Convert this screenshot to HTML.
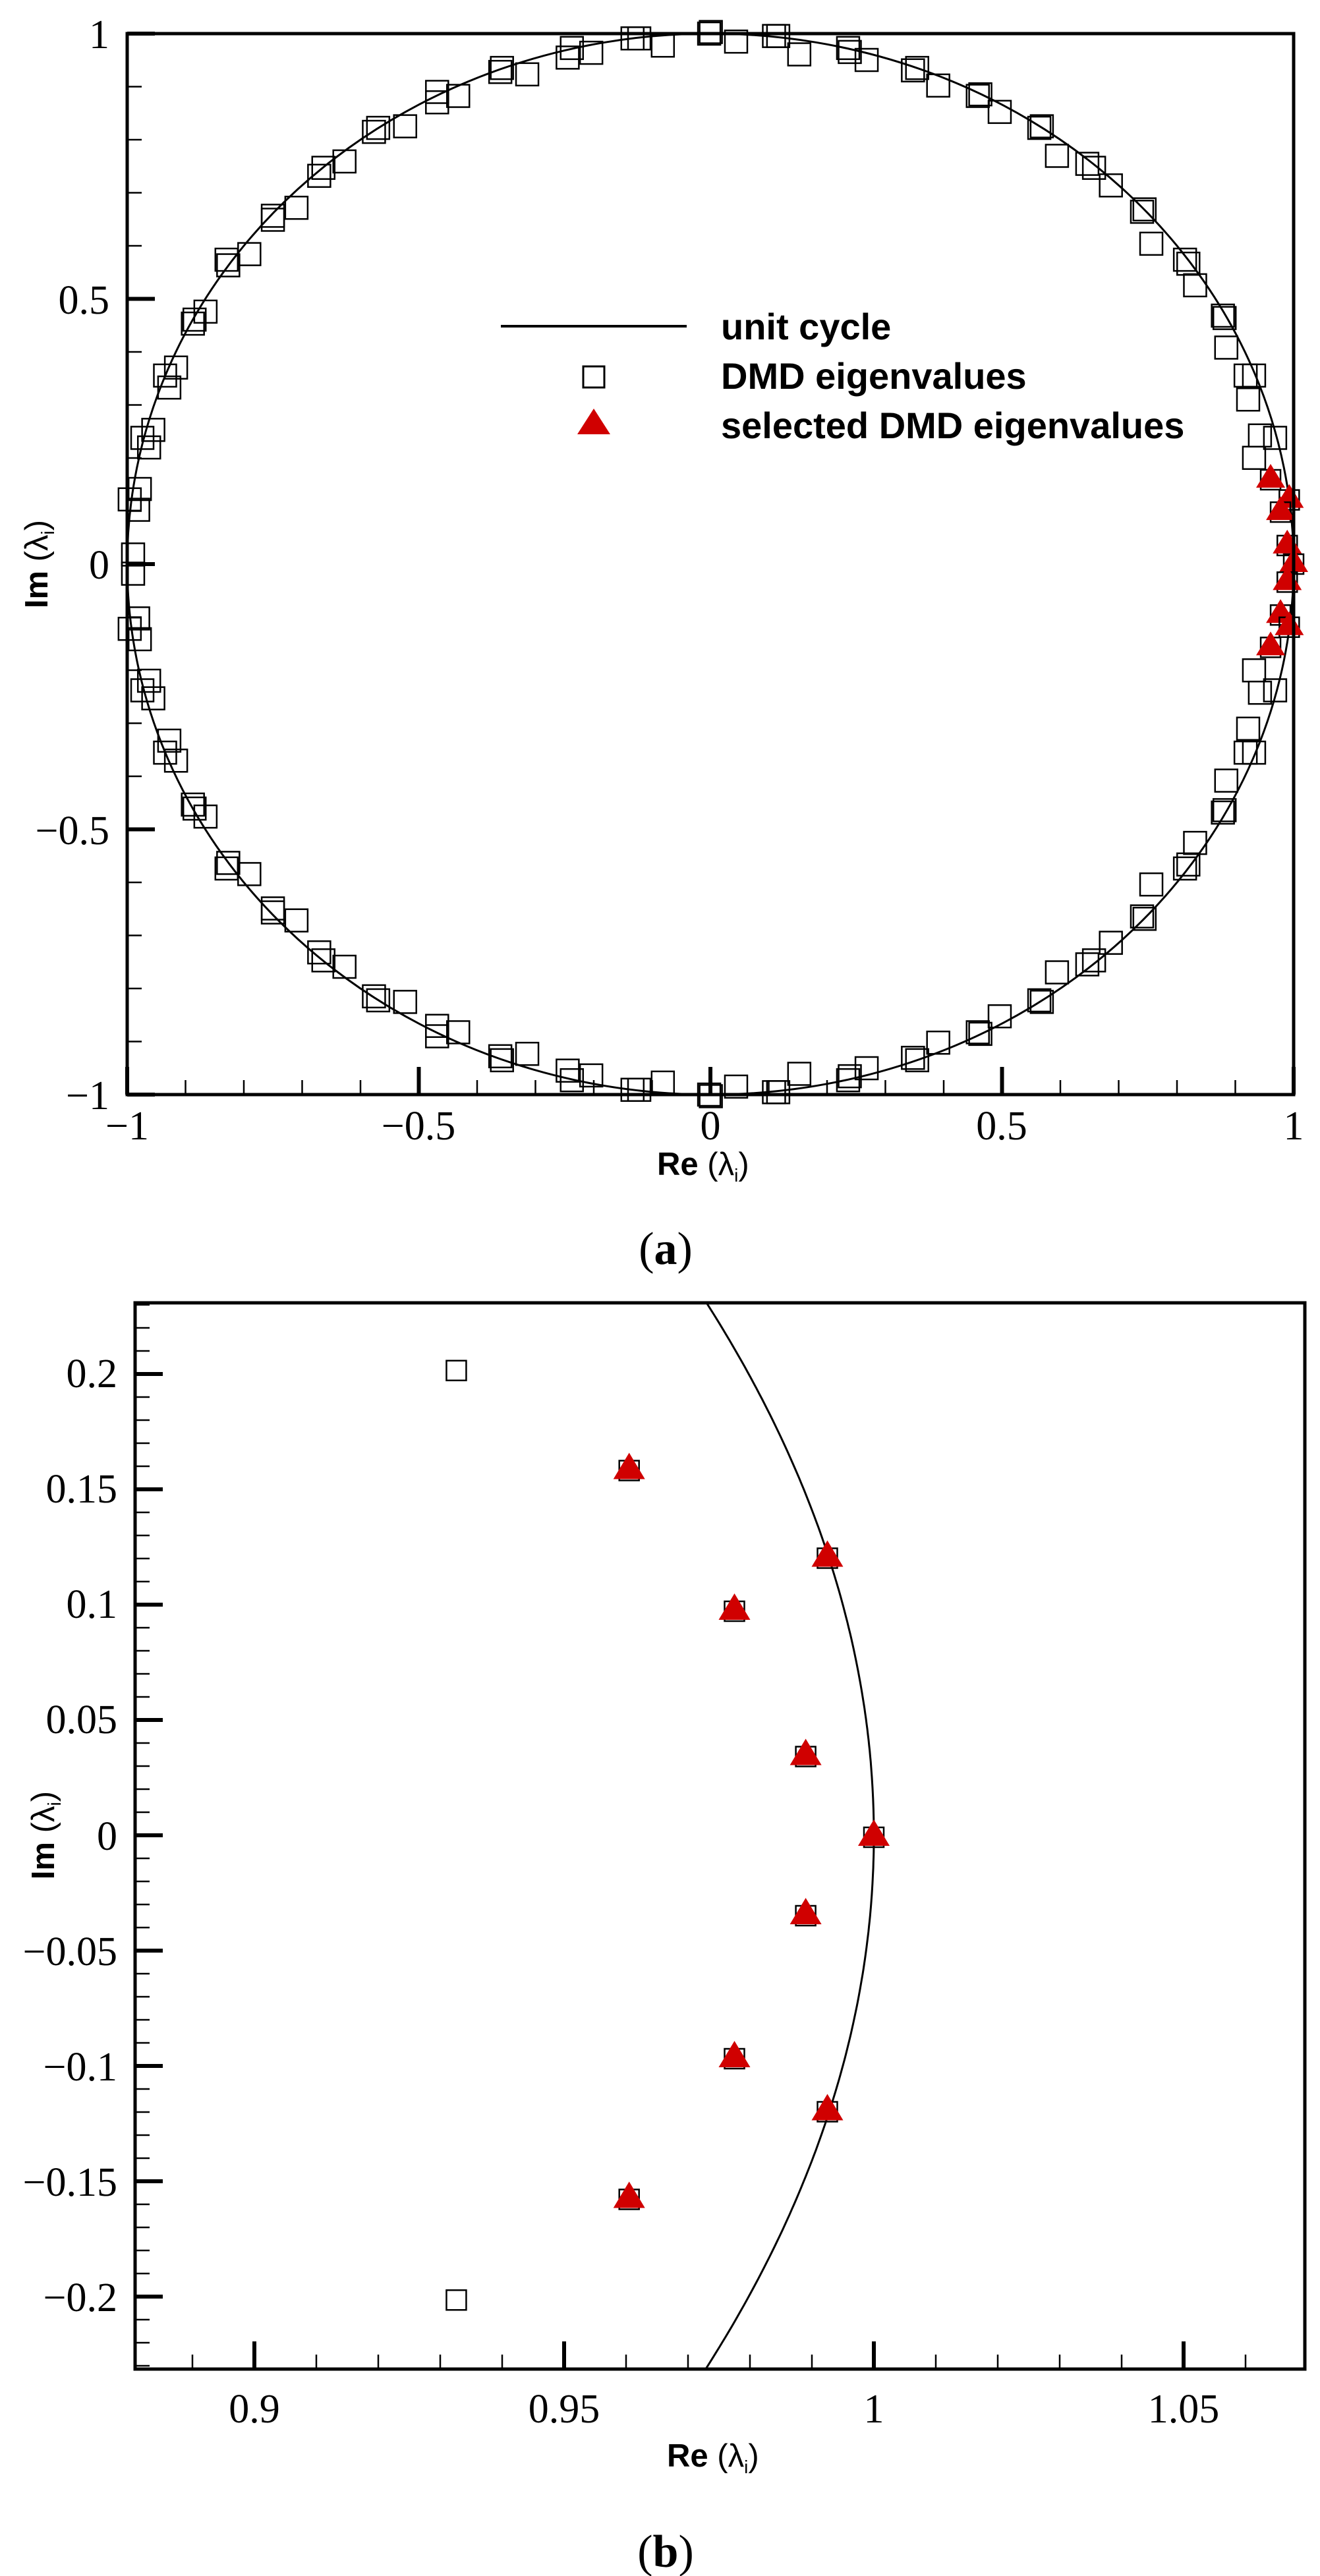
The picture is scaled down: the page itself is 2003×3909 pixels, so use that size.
<!DOCTYPE html>
<html><head><meta charset="utf-8"><style>
html,body{margin:0;padding:0;background:#fff;}
svg{display:block;}
.t{font-family:"Liberation Serif",serif;font-size:62px;fill:#000;}
.l{font-family:"Liberation Sans",sans-serif;font-weight:bold;fill:#000;}
</style></head><body>
<svg id="s" width="2003" height="3909" viewBox="0 0 2003 3909" xmlns="http://www.w3.org/2000/svg">
<rect width="2003" height="3909" fill="#fff"/>
<g id="g1"></g>
<g id="g2"></g>
<!-- top plot text -->
<g class="t" text-anchor="end">
<text x="166" y="73">1</text>
<text x="166" y="476">0.5</text>
<text x="166" y="878">0</text>
<text x="166" y="1281">−0.5</text>
<text x="166" y="1683">−1</text>
</g>
<g class="t" text-anchor="middle">
<text x="193" y="1729">−1</text>
<text x="635" y="1729">−0.5</text>
<text x="1078" y="1729">0</text>
<text x="1520" y="1729">0.5</text>
<text x="1963" y="1729">1</text>
</g>
<text class="l" x="997" y="1783" font-size="49">Re <tspan font-weight="normal">(λ</tspan><tspan font-weight="normal" font-size="28" dy="10">i</tspan><tspan font-weight="normal" dy="-10">)</tspan></text>
<text class="l" transform="translate(72,856) rotate(-90)" text-anchor="middle" font-size="49">Im <tspan font-weight="normal">(λ</tspan><tspan font-weight="normal" font-size="28" dy="10">i</tspan><tspan font-weight="normal" dy="-10">)</tspan></text>
<line x1="760" y1="495" x2="1042" y2="495" stroke="#000" stroke-width="4"/>
<rect x="885" y="556" width="32" height="32" fill="none" stroke="#000" stroke-width="3"/>
<polygon points="901,620 876,659 926,659" fill="#d00000"/>
<g class="l" font-size="56">
<text x="1094" y="515">unit cycle</text>
<text x="1094" y="590">DMD eigenvalues</text>
<text x="1094" y="665">selected DMD eigenvalues</text>
</g>
<text x="1010" y="1918" font-family="Liberation Serif,serif" font-size="70" text-anchor="middle">(<tspan font-weight="bold">a</tspan>)</text>
<!-- bottom plot text -->
<g class="t" text-anchor="end">
<text x="178" y="2105">0.2</text>
<text x="178" y="2280">0.15</text>
<text x="178" y="2455">0.1</text>
<text x="178" y="2630">0.05</text>
<text x="178" y="2807">0</text>
<text x="178" y="2982">−0.05</text>
<text x="178" y="3157">−0.1</text>
<text x="178" y="3332">−0.15</text>
<text x="178" y="3507">−0.2</text>
</g>
<g class="t" text-anchor="middle">
<text x="386" y="3676">0.9</text>
<text x="856" y="3676">0.95</text>
<text x="1326" y="3676">1</text>
<text x="1796" y="3676">1.05</text>
</g>
<text class="l" x="1012" y="3743" font-size="49">Re <tspan font-weight="normal">(λ</tspan><tspan font-weight="normal" font-size="28" dy="10">i</tspan><tspan font-weight="normal" dy="-10">)</tspan></text>
<text class="l" transform="translate(82,2785) rotate(-90)" text-anchor="middle" font-size="49">Im <tspan font-weight="normal">(λ</tspan><tspan font-weight="normal" font-size="28" dy="10">i</tspan><tspan font-weight="normal" dy="-10">)</tspan></text>
<text x="1010" y="3895" font-family="Liberation Serif,serif" font-size="70" text-anchor="middle">(<tspan font-weight="bold">b</tspan>)</text>
</svg>
<script>
var NS="http://www.w3.org/2000/svg";
function el(p,n,a){var e=document.createElementNS(NS,n);for(var k in a)e.setAttribute(k,a[k]);p.appendChild(e);return e;}
// ---- top plot
var g1=document.getElementById("g1");
var L=193,R=1963,T=51,B=1661;
function X1(x){return 1078+885*x;} function Y1(y){return 856-805*y;}
el(g1,"ellipse",{cx:1078,cy:856,rx:885,ry:805,fill:"none",stroke:"#000","stroke-width":3});
for(var i=-10;i<=10;i++){var v=i/10;var maj=(i%5==0);var len=maj?42:22;var w=maj?6:2.5;
 var x=X1(v);el(g1,"line",{x1:x,y1:B,x2:x,y2:B-len,stroke:"#000","stroke-width":w});
 var y=Y1(v);el(g1,"line",{x1:L,y1:y,x2:L+len,y2:y,stroke:"#000","stroke-width":w});}
var pts=[[155,625],[167,612],[165,638],[159,694],[170,548],[183,538],[178,560],[197,470],[210,460],[202,485],[230,405],[245,390],[232,400],[272,332],[297,318],[270,325],[325,275],[353,260],[325,270],[380,220],[410,202],[385,210],[445,165],[482,158],[450,160],[520,128],[545,120],[520,115],[595,90],[627,93],[597,85],[675,72],[703,66],[680,60],[752,48],[788,57],[760,48],[843,42],[875,52],[845,40],[920,45],[950,68],[925,45],[1008,60],[1030,75],[1010,65],[1085,88],[1115,107],[1090,85],[1162,120],[1188,140],[1165,118],[1235,160],[1256,195],[1238,158],[1292,205],[1320,232],[1300,210],[1357,265],[1368,305],[1360,262],[1408,325],[1420,357],[1412,330],[1453,395],[1457,435],[1455,398],[1480,470],[1490,470],[1483,500],[1497,545],[1515,548],[1490,573]];
var S=34;
pts.forEach(function(p){var x=(p[0]-844.5)/692.5,y=(706-p[1])/664;
 [y,-y].forEach(function(yy){el(g1,"rect",{x:X1(x)-S/2,y:Y1(yy)-S/2,width:S,height:S,fill:"none",stroke:"#000","stroke-width":2.5});});});
var sel=[[0.9605,0.159],[0.9925,0.121],[0.9775,0.098],[0.989,0.035],[1.0,0],[0.989,-0.034],[0.9775,-0.096],[0.9925,-0.119],[0.9605,-0.157]];
sel.forEach(function(p){var cx=X1(p[0]),cy=Y1(p[1]);
 el(g1,"rect",{x:cx-15,y:cy-15,width:30,height:30,fill:"none",stroke:"#000","stroke-width":2.5});
 el(g1,"polygon",{points:(cx)+","+(cy-24)+" "+(cx-22)+","+(cy+12)+" "+(cx+22)+","+(cy+12),fill:"#d00000"});});
el(g1,"rect",{x:L,y:T,width:R-L,height:B-T,fill:"none",stroke:"#000","stroke-width":5});
// ---- bottom plot
var g2=document.getElementById("g2");
var L2=205,R2=1980,T2=1977,B2=3595;
function X2(x){return 386+(x-0.9)*9400;} function Y2(y){return 2785-3500*y;}
var d="";for(var k=0;k<=200;k++){var y=0.2309-k*(0.4623/200);var x=Math.sqrt(1-y*y);d+=(k?"L":"M")+X2(x).toFixed(1)+","+Y2(y).toFixed(1);}
el(g2,"path",{d:d,fill:"none",stroke:"#000","stroke-width":3});
for(var i=88;i<=106;i++){var v=i/100;var maj=(i%5==0);var x=X2(v);if(x<L2||x>R2)continue;
 el(g2,"line",{x1:x,y1:B2,x2:x,y2:B2-(maj?42:22),stroke:"#000","stroke-width":maj?6:2.5});}
for(var i=-23;i<=23;i++){var v=i/100;var maj=(i%5==0);var y=Y2(v);if(y<T2||y>B2)continue;
 el(g2,"line",{x1:L2,y1:y,x2:L2+(maj?42:22),y2:y,stroke:"#000","stroke-width":maj?6:2.5});}
[[0.9326,0.2015],[0.9326,-0.2015]].forEach(function(p){el(g2,"rect",{x:X2(p[0])-15,y:Y2(p[1])-15,width:30,height:30,fill:"none",stroke:"#000","stroke-width":2.5});});
sel.forEach(function(p){var cx=X2(p[0]),cy=Y2(p[1]);
 el(g2,"rect",{x:cx-15,y:cy-12,width:30,height:30,fill:"none",stroke:"#000","stroke-width":2.5});
 el(g2,"polygon",{points:(cx)+","+(cy-24)+" "+(cx-24)+","+(cy+16)+" "+(cx+24)+","+(cy+16),fill:"#d00000"});});
el(g2,"rect",{x:L2,y:T2,width:R2-L2,height:B2-T2,fill:"none",stroke:"#000","stroke-width":5});
</script>
</body></html>
